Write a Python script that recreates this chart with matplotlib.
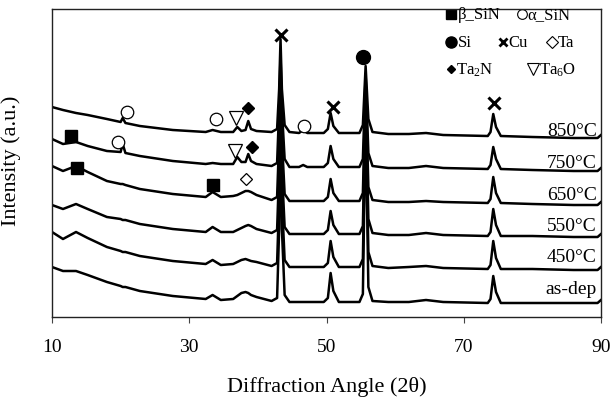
import matplotlib
matplotlib.use("Agg")
import matplotlib.pyplot as plt

plt.rcParams['font.family'] = ['Liberation Serif', 'DejaVu Serif']
plt.rcParams['mathtext.fontset'] = 'custom'
plt.rcParams['mathtext.rm'] = 'Liberation Serif'
plt.rcParams['mathtext.it'] = 'Liberation Serif:italic'

# 2-theta grid shared by all patterns
two_theta = [10, 11.6, 13.5, 15.2, 18, 20.0, 20.3, 20.7, 22.8, 27.6,
             32.4, 33.4, 34.6, 36.4, 37.0, 37.6, 38.2, 38.6, 39.0, 39.8,
             42.0, 42.8, 43.1, 43.3, 43.5, 43.9, 44.6, 46.0, 46.6, 47.2,
             49.6, 50.2, 50.6, 51.0, 51.8, 54.8, 55.3, 55.7, 56.1, 56.7,
             59, 62, 64.5, 67, 73.5, 73.9, 74.3, 74.7, 75.4, 80,
             86, 89.5, 90]

# intensities (a.u.), already stacked
i_850 = [210, 207, 204, 202, 198, 195, 199, 194, 191, 187,
         185, 187, 185, 185, 190, 186, 187, 196, 188, 186,
         185, 188, 228, 278, 228, 192, 185, 184, 187, 184,
         184, 188, 204, 191, 184, 184, 192, 251, 198, 185,
         183, 183, 184, 182, 181, 185, 203, 190, 181, 180,
         179, 179, 182]
i_750 = [178, 173, 175, 171, 166, 165, 173, 164, 161, 156,
         153, 154, 153, 153, 160, 155, 155, 163, 156, 153,
         151, 154, 208, 263, 208, 158, 150, 150, 152, 150,
         150, 154, 171, 158, 150, 150, 158, 243, 164, 151,
         149, 149, 151, 149, 148, 152, 170, 158, 148, 147,
         146, 146, 149]
i_650 = [151, 146, 151, 145, 136, 133, 133, 132, 128, 123,
         120, 125, 120, 121, 122, 124, 126, 126, 125, 122,
         117, 120, 178, 253, 178, 123, 116, 116, 116, 116,
         116, 120, 138, 124, 116, 116, 124, 233, 130, 117,
         115, 115, 116, 115, 114, 118, 140, 124, 114, 113,
         112, 112, 115]
i_550 = [112, 108, 113, 108, 100, 98, 97, 97, 93, 88,
         85, 90, 85, 85, 87, 89, 91, 92, 91, 88,
         84, 87, 148, 243, 148, 90, 83, 83, 83, 83,
         83, 87, 106, 92, 83, 83, 91, 223, 98, 84,
         82, 82, 84, 82, 81, 85, 108, 92, 81, 81,
         80, 80, 83]
i_450 = [85, 78, 85, 79, 70, 66, 65, 65, 61, 56,
         53, 57, 52, 53, 55, 57, 58, 57, 56, 55,
         51, 54, 118, 238, 118, 57, 50, 50, 50, 50,
         50, 54, 76, 60, 50, 50, 58, 213, 65, 51,
         49, 50, 51, 49, 48, 52, 76, 59, 48, 48,
         47, 47, 50]
i_asdep = [50, 46, 46, 42, 35, 31, 30, 30, 26, 21,
           18, 22, 17, 18, 21, 24, 25, 24, 22, 20,
           16, 19, 88, 233, 88, 22, 15, 15, 15, 15,
           15, 19, 44, 26, 15, 15, 23, 203, 30, 16,
           15, 15, 17, 15, 14, 18, 41, 25, 14, 14,
           14, 14, 17]

patterns = [i_850, i_750, i_650, i_550, i_450, i_asdep]
labels = ['850°C', '750°C', '650°C', '550°C', '450°C', 'as-dep']
label_y = [187, 155, 123, 91, 60, 28]

# phase markers (2theta, intensity)
bsin_x, bsin_y = [12.8, 13.6, 33.5], [181, 149, 132]
asin_x, asin_y = [20.9, 33.9, 46.7, 19.6], [205, 198, 191, 175]
si_x, si_y = [55.3], [260]
cu_x, cu_y = [43.3, 50.9, 74.4], [282, 210, 214]
ta_x, ta_y = [38.3], [138]
ta2n_x, ta2n_y = [38.6, 39.1], [209, 170]
ta6o_x, ta6o_y = [36.8, 36.7], [199, 166]

fig = plt.figure(figsize=(6.15, 4.06), dpi=100)
ax = fig.add_axes([52/615, 88/406, 549/615, 308/406])

for p in patterns:
    ax.plot(two_theta, p, color='black', lw=1.8, solid_joinstyle='round')

for lab, y in zip(labels, label_y):
    ax.text(89.4, y, lab, ha='right', va='center', fontsize=14)

mk = dict(linestyle='none', color='black')
ax.plot(bsin_x, bsin_y, marker='s', ms=8, **mk)
ax.plot(asin_x, asin_y, marker='o', ms=9, mfc='white', mew=0.9, **mk)
ax.plot(si_x, si_y, marker='o', ms=10, **mk)
ax.plot(cu_x, cu_y, marker='x', ms=8, mew=2.2, **mk)
ax.plot(ta_x, ta_y, marker='D', ms=6, mfc='white', mew=0.9, **mk)
ax.plot(ta2n_x, ta2n_y, marker='D', ms=6.5, **mk)
ax.plot(ta6o_x, ta6o_y, marker='v', ms=10, mfc='white', mew=0.9, **mk)

# legend block (top right)
fs = 12
ax.plot([68.2], [303], marker='s', ms=7, **mk)
ax.text(69.1, 303, 'β_SiN', va='center', fontsize=fs)
ax.plot([78.5], [303], marker='o', ms=7, mfc='white', mew=0.8, **mk)
ax.text(79.3, 303, 'α_SiN', va='center', fontsize=fs)
ax.plot([68.2], [275], marker='o', ms=8, **mk)
ax.text(69.2, 275, 'Si', va='center', fontsize=fs)
ax.plot([75.7], [275], marker='x', ms=5.5, mew=2, **mk)
ax.text(76.5, 275, 'Cu', va='center', fontsize=fs)
ax.plot([82.8], [275], marker='D', ms=6, mfc='white', mew=0.8, **mk)
ax.text(83.7, 275, 'Ta', va='center', fontsize=fs)
ax.plot([68.1], [248], marker='D', ms=4.5, **mk)
ax.text(68.8, 248, 'Ta$_2$N', va='center', fontsize=fs)
ax.plot([80.1], [248], marker='v', ms=8, mfc='white', mew=0.8, **mk)
ax.text(81.0, 248, 'Ta$_6$O', va='center', fontsize=fs)

ax.set_xlim(10, 90)
ax.set_ylim(0, 308)
ax.set_xticks([10, 30, 50, 70, 90])
ax.set_yticks([])
ax.tick_params(axis='x', direction='out', length=4, width=0.8, pad=11, labelsize=14, colors='#444444', labelcolor='black')
for s in ax.spines.values():
    s.set_color('#222222')
    s.set_linewidth(1.0)

ax.set_xlabel('Diffraction Angle (2θ)', fontsize=16, labelpad=15)
ax.set_ylabel('Intensity (a.u.)', fontsize=16)
ax.yaxis.set_label_coords(-0.057, 0.51)

fig.savefig('out.png', dpi=100)
